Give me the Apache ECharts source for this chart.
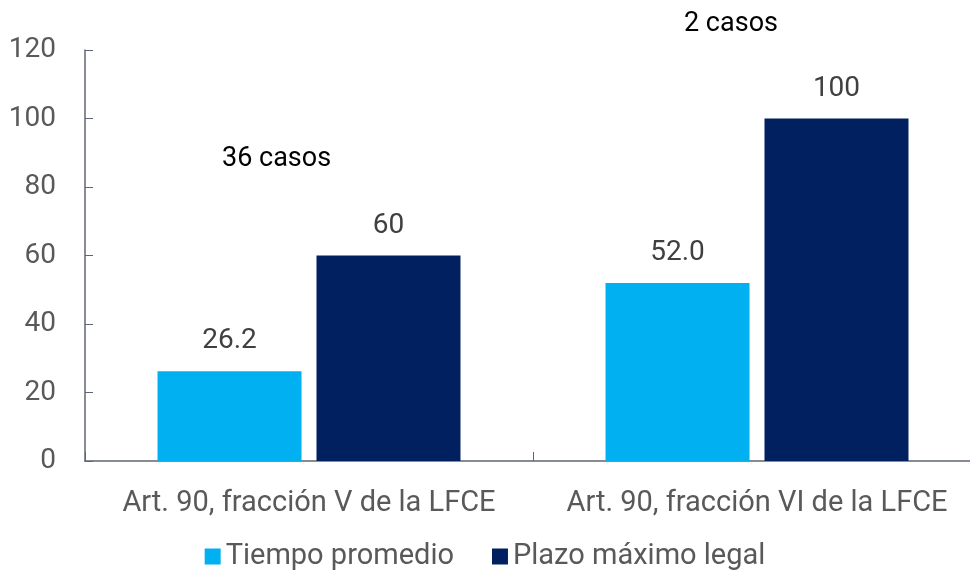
<!DOCTYPE html>
<html>
<head>
<meta charset="utf-8">
<script src="https://cdn.jsdelivr.net/npm/echarts@6/dist/echarts.min.js"></script>
<style>html,body{margin:0;padding:0;background:#fff}#c{width:970px;height:574px}</style>
</head>
<body>
<div id="c"></div>
<script>
var categories = ['Art. 90, fracción V de la LFCE', 'Art. 90, fracción VI de la LFCE'];
var seriesNames = ['Tiempo promedio', 'Plazo máximo legal'];
var tiempoPromedio = [26.2, 52.0];
var plazoMaximo = [60, 100];
var annotations = ['36 casos', '2 casos'];
var yTicks = [0, 20, 40, 60, 80, 100, 120];

var FONT = 'Roboto';
var chart = echarts.init(document.getElementById('c'), null, {renderer: 'canvas'});
chart.setOption({
  animation: false,
  textStyle: {fontFamily: FONT},
  grid: {left: 85, right: -11, top: 50, bottom: 113, containLabel: false, outerBoundsMode: 'none'},
  legend: {
    bottom: -2, left: 'center',
    icon: 'rect', itemWidth: 16, itemHeight: 16, itemGap: 38,
    textStyle: {fontFamily: FONT, fontSize: 29, color: '#595959'},
    data: seriesNames
  },
  xAxis: {
    type: 'category', data: categories,
    axisLine: {lineStyle: {color: '#5f6673', width: 1.5}},
    axisTick: {show: true, inside: true, length: 9, lineStyle: {color: '#5f6673'}},
    axisLabel: {interval: 0, fontFamily: FONT, fontSize: 29, color: '#595959', margin: 28}
  },
  yAxis: {
    type: 'value', min: yTicks[0], max: yTicks[yTicks.length - 1], interval: 20,
    splitLine: {show: false},
    axisLine: {show: true, lineStyle: {color: '#5f6673', width: 1.5}},
    axisTick: {show: true, inside: true, length: 8, lineStyle: {color: '#5f6673'}},
    axisLabel: {fontFamily: FONT, fontSize: 28, color: '#595959', margin: 29}
  },
  series: [
    {
      name: seriesNames[0], type: 'bar', data: tiempoPromedio,
      barWidth: 144, barGap: '10.4%',
      itemStyle: {color: '#00b0f0'},
      label: {show: true, position: 'top', distance: 16, fontFamily: FONT, fontSize: 28, color: '#404040',
        formatter: function (p) { return p.value.toFixed(1); }}
    },
    {
      name: seriesNames[1], type: 'bar', data: plazoMaximo,
      barWidth: 144,
      itemStyle: {color: '#002060'},
      label: {show: true, position: 'top', distance: 16, fontFamily: FONT, fontSize: 28, color: '#404040'}
    }
  ],
  graphic: [
    {type: 'text', left: 222, top: 146, style: {text: annotations[0], fontFamily: FONT, fontSize: 27, fill: '#000'}},
    {type: 'text', left: 684, top: 11, style: {text: annotations[1], fontFamily: FONT, fontSize: 27, fill: '#000'}}
  ]
});
</script>
</body>
</html>
